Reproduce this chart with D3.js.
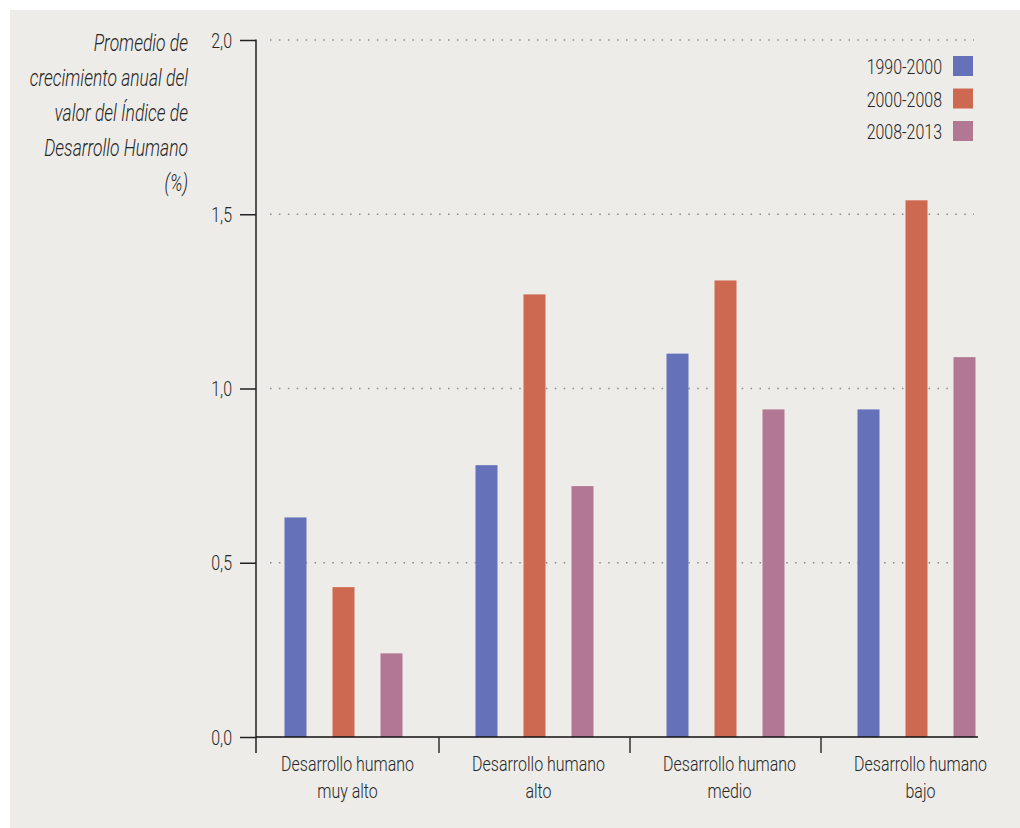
<!DOCTYPE html>
<html>
<head>
<meta charset="utf-8">
<script src="https://cdn.jsdelivr.net/npm/d3@7"></script>
<style>
  body { margin: 0; background: #fff; }
  svg text { font-family: Roboto, "Noto Sans", sans-serif; font-weight: 300; fill: #262626; }
</style>
</head>
<body>
<svg id="chart"></svg>
<script>
const categories = [["Desarrollo humano", "muy alto"], ["Desarrollo humano", "alto"], ["Desarrollo humano", "medio"], ["Desarrollo humano", "bajo"]];
const series = ["1990-2000", "2000-2008", "2008-2013"];
const v1990 = [0.63, 0.78, 1.10, 0.94];
const v2000 = [0.43, 1.27, 1.31, 1.54];
const v2008 = [0.24, 0.72, 0.94, 1.09];
const yTicks = [0, 0.5, 1, 1.5, 2];
const yTitle = ["Promedio de", "crecimiento anual del", "valor del Índice de", "Desarrollo Humano", "(%)"];

const colors = ["#6571b8", "#cd6950", "#b27893"];
const values = [v1990, v2000, v2008];

const svgWidth = 1020, svgHeight = 828;
const narrow = 0.76; /*the original font is a condensed one*/
const svg = d3.select("#chart").attr("width", svgWidth).attr("height", svgHeight);

// panel background
svg.append("rect").attr("x", 10).attr("y", 10)
  .attr("width", svgWidth - 10).attr("height", svgHeight - 10)
  .attr("fill", "#edece8");

const axisX = 256, baseY = 737;
const yScale = d3.scaleLinear().domain([0, 2]).range([baseY, 40]);
const xScale = d3.scaleBand().domain(d3.range(categories.length)).range([248, 1012]);
const xSub = d3.scalePoint().domain(series).range([-48, 48]);
const barWidth = 22;

// condensed text placed at x,y
const label = (parent, x, y) => parent.append("g")
  .attr("transform", `translate(${x}, ${y}) scale(${narrow}, 1)`)
  .append("text");

// dotted grid
svg.append("g").selectAll("line")
  .data(yTicks.filter(d => d > 0))
  .join("line")
  .attr("x1", 270).attr("x2", 974)
  .attr("y1", d => yScale(d)).attr("y2", d => yScale(d))
  .attr("stroke", "#8a8a8a")
  .attr("stroke-width", 1.4)
  .attr("stroke-dasharray", "1.5,7.4");

// bars
categories.forEach((c, i) => {
  const cx = xScale(i) + xScale.bandwidth() / 2;
  svg.append("g").selectAll("rect")
    .data(series)
    .join("rect")
    .attr("x", s => cx + xSub(s) - barWidth / 2)
    .attr("width", barWidth)
    .attr("y", (s, k) => yScale(values[k][i]))
    .attr("height", (s, k) => baseY - yScale(values[k][i]))
    .attr("fill", (s, k) => colors[k]);
});

// y axis
const yAxis = d3.axisLeft(yScale)
  .tickValues(yTicks)
  .tickSize(16)
  .tickFormat("");

const gy = svg.append("g")
  .attr("transform", `translate(${axisX}, 0)`)
  .call(yAxis);
gy.select(".domain").remove();
gy.selectAll("line").attr("stroke", "#222").attr("stroke-width", 1.5);

yTicks.forEach(t => {
  label(svg, axisX - 24, yScale(t) + 7.5)
    .attr("text-anchor", "end")
    .attr("font-size", 21)
    .text(d3.format(".1f")(t).replace(".", ","));
});

svg.append("line")
  .attr("x1", axisX).attr("x2", axisX)
  .attr("y1", yScale(2) - 0.5).attr("y2", baseY + 16)
  .attr("stroke", "#222").attr("stroke-width", 1.5);

// x axis
svg.append("line")
  .attr("x1", axisX).attr("x2", 978)
  .attr("y1", baseY).attr("y2", baseY)
  .attr("stroke", "#111").attr("stroke-width", 1.5);

svg.append("g").selectAll("line")
  .data(d3.range(1, categories.length))
  .join("line")
  .attr("x1", i => xScale(i)).attr("x2", i => xScale(i))
  .attr("y1", baseY).attr("y2", baseY + 16)
  .attr("stroke", "#333").attr("stroke-width", 1.5);

categories.forEach((c, i) => {
  const cx = xScale(i) + xScale.bandwidth() / 2 + 4;
  label(svg, cx, 771)
    .attr("text-anchor", "middle")
    .attr("font-size", 21)
    .selectAll("tspan")
    .data(c)
    .join("tspan")
    .attr("x", 0)
    .attr("y", (d, k) => k * 27)
    .text(d => d);
});

// y title
label(svg, 188, 51)
  .attr("text-anchor", "end")
  .attr("font-size", 23)
  .attr("font-style", "italic")
  .selectAll("tspan")
  .data(yTitle)
  .join("tspan")
  .attr("x", 0)
  .attr("y", (d, k) => k * 35)
  .text(d => d);

// legend
const legend = svg.append("g").selectAll("g")
  .data(series)
  .join("g")
  .attr("transform", (d, k) => `translate(953, ${56 + k * 32.5})`);
legend.append("rect")
  .attr("width", 20).attr("height", 20)
  .attr("fill", (d, k) => colors[k]);
legend.each(function () {
  label(d3.select(this), -11, 18)
    .attr("text-anchor", "end")
    .attr("font-size", 21)
    .text(d => d);
});
</script>
</body>
</html>
